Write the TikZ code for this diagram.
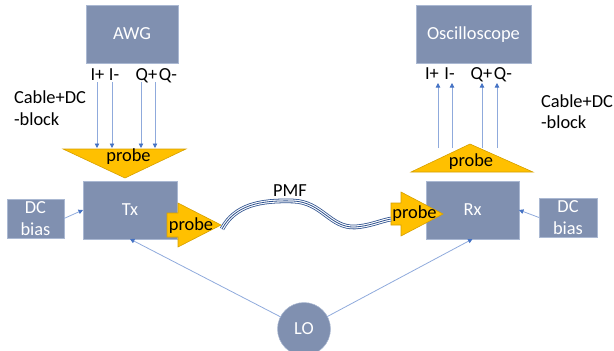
\documentclass[tikz,border=0pt]{standalone}
\usepackage{fontspec}
\setmainfont{Carlito}
\usetikzlibrary{arrows.meta,calc}
\definecolor{boxc}{RGB}{128,144,176}
\definecolor{boxedge}{RGB}{170,184,210}
\definecolor{probec}{RGB}{255,192,0}
\definecolor{probeedge}{RGB}{214,160,0}
\definecolor{linec}{RGB}{143,170,220}
\definecolor{tipc}{RGB}{68,114,196}
\definecolor{cablec}{RGB}{47,82,143}
\begin{document}
\begin{tikzpicture}[x=1pt,y=-1pt,
  every node/.style={font=\fontsize{18.4}{21.5}\selectfont, inner sep=0pt, outer sep=0pt},
  box/.style={fill=boxc, draw=boxedge, line width=0.5pt, text=white, text height=11.85pt, text depth=0pt},
  dcbox/.style={fill=boxc, draw=boxedge, line width=0.5pt, text=white, align=center},
  lbl/.style={anchor=base, text=black},
  lblw/.style={anchor=base west, text=black},
  probeshape/.style={fill=probec, draw=probeedge, line width=0.6pt},
  conn/.style={draw=linec, line width=0.8pt, -{Triangle[length=4.5pt,width=4.5pt,color=tipc]}}
]
\useasboundingbox (0,0) rectangle (614,351);

% boxes
\node[box, minimum width=92pt, minimum height=58pt] (AWG) at (132,34) {AWG};
\node[box, minimum width=115pt, minimum height=58pt] (OSC) at (473.5,34) {Oscilloscope};
\node[box, minimum width=94pt, minimum height=58pt] (Tx) at (130,210) {Tx};
\node[box, minimum width=93pt, minimum height=58pt] (Rx) at (472.5,210) {Rx};
\node[dcbox, minimum width=57pt, minimum height=39pt] (DCL) at (35.5,218.5) {DC\\bias};
\node[dcbox, minimum width=58pt, minimum height=39pt] (DCR) at (568,217.5) {DC\\bias};
\node[circle, fill=boxc, draw=boxedge, line width=0.5pt, text=white, minimum size=53pt, text height=11.85pt, text depth=0pt] (LO) at (304,329) {LO};

% port labels
\node[lbl] (AIp) at (97.5,80) {I+};
\node[lbl] (AIm) at (114,80) {I-};
\node[lbl] (AQp) at (146.5,80) {Q+};
\node[lbl] (AQm) at (168,80) {Q-};
\node[lbl] (OIp) at (432,79) {I+};
\node[lbl] (OIm) at (449.5,79) {I-};
\node[lbl] (OQp) at (481.5,79) {Q+};
\node[lbl] (OQm) at (503,79) {Q-};

% cable labels
\node[lblw] (cl1) at (14,103.3) {Cable+DC};
\node[lblw] (cl2) at (14,125) {-block};
\node[lblw] (cr1) at (541,107) {Cable+DC};
\node[lblw] (cr2) at (541,128.5) {-block};

% probes
\path[probeshape] (63,149) -- (186,149) -- (125,178) -- cycle;
\node[lbl] (pA) at (128.5,161.7) {probe};
\path[probeshape] (411,172) -- (533,172) -- (470,144) -- cycle;
\node[lbl] (pO) at (471,166.5) {probe};
\path[probeshape] (167,213) -- (178,213) -- (178,203) -- (221,225) -- (178,247) -- (178,237) -- (167,237) -- cycle;
\node[lbl] (pT) at (191,230) {probe};
\path[probeshape] (391,203) -- (401,203) -- (401,192) -- (443,214) -- (401,236) -- (401,225) -- (391,225) -- cycle;
\node[lbl] (pR) at (414.5,218.5) {probe};

% vertical connectors
\foreach \x [count=\i] in {97,112,141,155} {
  \coordinate (ls\i) at (\x,82);
  \coordinate (le\i) at (\x,148);
  \draw[conn] (ls\i) -- (le\i);
}
\foreach \x [count=\i] in {438,452,482,497} {
  \coordinate (rs\i) at (\x,148);
  \coordinate (re\i) at (\x,83);
  \draw[conn] (rs\i) -- (re\i);
}

% DC bias and LO connectors
\draw[conn] (DCL.east) -- (Tx.west);
\draw[conn] (DCR.west) -- (Rx.east);
\draw[conn] (LO) -- (Tx.south);
\draw[conn] (LO) -- (Rx.south);

% PMF cable
\coordinate (c0) at (222,229);
\coordinate (c1) at (293,201);
\coordinate (c2) at (355,227);
\coordinate (c3) at (391,219);
\def\cablepath{(c0) .. controls (235,205) and (260,200) .. (c1) .. controls (322,202) and (330,228) .. (c2) .. controls (370,226) and (380,221) .. (c3)}
\draw[cablec, line width=4.6pt] \cablepath;
\draw[white, line width=3.0pt] \cablepath;
\draw[cablec, line width=0.8pt] \cablepath;
\node[lbl] (PMF) at (290,196) {PMF};
\end{tikzpicture}
\end{document}
